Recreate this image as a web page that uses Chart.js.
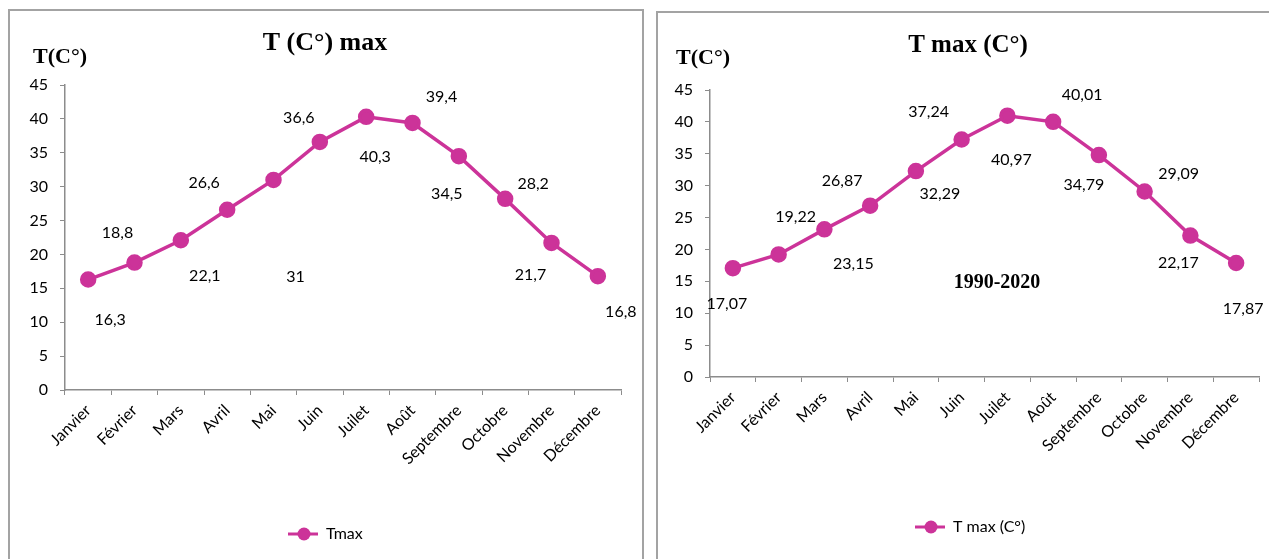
<!DOCTYPE html>
<html>
<head>
<meta charset="utf-8">
<script src="https://cdn.jsdelivr.net/npm/chart.js@4.4.1/dist/chart.umd.min.js"></script>
<style>
body { margin: 0; background: #fff; width: 1269px; height: 559px; overflow: hidden; position: relative; }
.box { position: absolute; border: 2px solid #a3a3a3; box-sizing: border-box; }
canvas { position: absolute; }
</style>
</head>
<body>
<div class="box" style="left:8px;top:9px;width:636px;height:620px"></div>
<div class="box" style="left:656px;top:11px;width:700px;height:620px"></div>
<canvas id="chartLeft" width="630" height="547" style="left:10px;top:12px"></canvas>
<canvas id="chartRight" width="609" height="545" style="left:660px;top:14px"></canvas>
<script>
// Données
const months = ['Janvier', 'Février', 'Mars', 'Avril', 'Mai', 'Juin', 'Juilet', 'Août', 'Septembre', 'Octobre', 'Novembre', 'Décembre'];
const tmaxLeft = [16.3, 18.8, 22.1, 26.6, 31, 36.6, 40.3, 39.4, 34.5, 28.2, 21.7, 16.8];
const tmaxRight = [17.07, 19.22, 23.15, 26.87, 32.29, 37.24, 40.97, 40.01, 34.79, 29.09, 22.17, 17.87];
const yMin = 0;
const yMax = 45;
const yStep = 5;

// décalage des étiquettes par rapport au point (px)
const offsetsLeft = [[22, 40], [-17, -30], [24, 36], [-23, -27], [22, 97], [-21, -24], [9, 40], [29, -26], [-12, 38], [28, -15], [-21, 32], [23, 36]];
const offsetsRight = [[-6, 36], [17, -38], [29, 34], [-28, -25], [24, 23], [-33, -28], [4, 44], [29, -27], [-15, 30], [34, -18], [-12, 27], [7, 46]];

const pink = '#cc3399';
const axisGray = '#8c8c8c';
const labelFont = '16px Lato';

const decoPlugin = {
	id: 'deco',
	afterDatasetsDraw(chart, args, opts) {
		const ctx = chart.ctx;
		const meta = chart.getDatasetMeta(0);
		const values = chart.data.datasets[0].data;
		ctx.save();
		ctx.fillStyle = '#000';
		ctx.textAlign = 'center';
		ctx.textBaseline = 'middle';
		ctx.font = labelFont;
		meta.data.forEach((pt, i) => {
			const [dx, dy] = opts.offsets[i];
			ctx.fillText(String(values[i]).replace('.', ','), pt.x + dx, pt.y + dy);
		});

		// titres
		ctx.font = 'bold ' + opts.titleSize + 'px "Liberation Serif"';
		ctx.fillText(opts.title, opts.titlePos[0], opts.titlePos[1]);
		ctx.font = 'bold 22px "Liberation Serif"';
		ctx.fillText('T(C°)', opts.unitPos[0], opts.unitPos[1]);
		if (opts.note) {
			ctx.font = 'bold 20px "Liberation Serif"';
			ctx.fillText(opts.note, opts.notePos[0], opts.notePos[1]);
		}

		// légende
		const [lx, ly] = opts.legendPos;
		ctx.strokeStyle = pink;
		ctx.lineWidth = 3;
		ctx.beginPath();
		ctx.moveTo(lx, ly);
		ctx.lineTo(lx + 30, ly);
		ctx.stroke();
		ctx.fillStyle = pink;
		ctx.beginPath();
		ctx.arc(lx + 16, ly, 6.5, 0, Math.PI * 2);
		ctx.fill();
		ctx.fillStyle = '#000';
		ctx.textAlign = 'left';
		ctx.font = labelFont;
		ctx.fillText(chart.data.datasets[0].label, lx + 38, ly);
		ctx.restore();
	}
};

const createChart = (canvasId, label, values, plot, deco) => {
	let ctx = document.getElementById(canvasId).getContext('2d');
	return new Chart(ctx, {
		type: 'line',
		data: {
			labels: months,
			datasets: [{
				label: label,
				data: values,
				borderColor: pink,
				backgroundColor: pink,
				borderWidth: 3.5,
				pointRadius: 6.5,
				pointHoverRadius: 6.5,
				tension: 0
			}]
		},
		options: {
			responsive: false,
			animation: false,
			layout: { padding: { top: plot.top, right: plot.right, left: 0, bottom: 0 } },
			plugins: {
				legend: { display: false },
				title: { display: false },
				tooltip: { enabled: false },
				deco: deco
			},
			scales: {
				x: {
					offset: true,
					afterFit: (s) => { s.height = plot.bottom; },
					grid: { offset: true, drawOnChartArea: false, drawTicks: true, tickLength: 5, color: axisGray },
					border: { display: true, color: axisGray, width: 1.5 },
					ticks: { color: '#000', font: { family: 'Lato', size: 16 }, minRotation: 45, maxRotation: 45, padding: 6, autoSkip: false }
				},
				y: {
					min: yMin,
					max: yMax,
					afterFit: (s) => { s.width = plot.left; },
					grid: { drawOnChartArea: false, drawTicks: true, tickLength: 5, color: axisGray },
					border: { display: true, color: axisGray, width: 1.5 },
					ticks: { stepSize: yStep, color: '#000', font: { family: 'Lato', size: 16 }, padding: 12 }
				}
			}
		},
		plugins: [decoPlugin]
	});
};

createChart('chartLeft', 'Tmax', tmaxLeft,
	{ left: 55, top: 73, right: 19, bottom: 169 },
	{ offsets: offsetsLeft, title: 'T (C°) max', titleSize: 26, titlePos: [315, 31], unitPos: [50, 45], legendPos: [278, 522] });

createChart('chartRight', 'T max (C°)', tmaxRight,
	{ left: 50, top: 76, right: 8, bottom: 182 },
	{ offsets: offsetsRight, title: 'T max (C°)', titleSize: 25, titlePos: [308, 32], unitPos: [43, 44], note: '1990-2020', notePos: [337, 269], legendPos: [255, 513] });
</script>
</body>
</html>
